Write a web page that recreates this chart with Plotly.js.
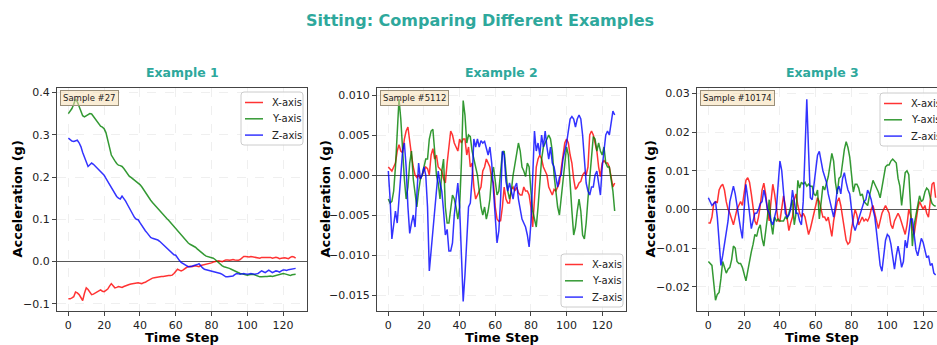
<!DOCTYPE html>
<html><head><meta charset="utf-8">
<script src="https://cdn.plot.ly/plotly-3.0.1.min.js"></script>
<style>html,body{margin:0;padding:0;overflow:hidden;background:#fff}#chart{width:960px;height:345px}</style>
</head><body><div id="chart"></div>
<script>
const mainTitle = "Sitting: Comparing Different Examples";
const panelTitles = ["Example 1", "Example 2", "Example 3"];
const sampleLabels = ["Sample #27", "Sample #5112", "Sample #10174"];
const seriesNames = ["X-axis", "Y-axis", "Z-axis"];
const xTitle = "Time Step";
const yTitle = "Acceleration (g)";
const nSteps = 128;

const ex1X = [
-0.088,-0.088,-0.086,-0.083,-0.072,-0.074,-0.078,-0.085,-0.092,-0.075,
-0.062,-0.066,-0.072,-0.078,-0.077,-0.074,-0.072,-0.069,-0.067,-0.070,
-0.071,-0.068,-0.065,-0.058,-0.052,-0.057,-0.062,-0.061,-0.059,-0.060,
-0.061,-0.059,-0.057,-0.056,-0.054,-0.053,-0.052,-0.051,-0.050,-0.050,
-0.051,-0.052,-0.050,-0.049,-0.046,-0.043,-0.041,-0.039,-0.038,-0.037,
-0.036,-0.036,-0.035,-0.035,-0.034,-0.034,-0.033,-0.033,-0.032,-0.028,
-0.022,-0.018,-0.020,-0.022,-0.020,-0.016,-0.014,-0.012,-0.011,-0.012,
-0.011,-0.010,-0.011,-0.012,-0.009,-0.008,-0.008,-0.007,-0.006,-0.005,
-0.003,-0.001,0.000,0.002,0.002,0.001,0.000,0.002,0.004,0.004,
0.003,0.004,0.005,0.004,0.003,0.003,0.005,0.009,0.012,0.012,
0.011,0.011,0.012,0.011,0.010,0.009,0.008,0.008,0.010,0.010,
0.009,0.009,0.010,0.010,0.008,0.009,0.010,0.009,0.007,0.008,
0.009,0.009,0.008,0.007,0.010,0.012,0.011,0.008];
const ex1Y = [
0.350,0.355,0.362,0.372,0.385,0.378,0.366,0.355,0.345,0.342,
0.344,0.347,0.350,0.349,0.343,0.337,0.330,0.324,0.320,0.318,
0.314,0.305,0.290,0.270,0.252,0.243,0.238,0.232,0.228,0.227,
0.225,0.220,0.213,0.207,0.202,0.199,0.196,0.192,0.188,0.186,
0.182,0.177,0.170,0.163,0.157,0.151,0.145,0.140,0.135,0.130,
0.126,0.121,0.116,0.111,0.106,0.102,0.098,0.093,0.088,0.083,
0.078,0.073,0.068,0.063,0.058,0.053,0.048,0.044,0.041,0.039,
0.037,0.034,0.030,0.026,0.022,0.019,0.016,0.013,0.012,0.011,
0.010,0.008,0.005,0.001,-0.002,-0.006,-0.010,-0.012,-0.013,-0.014,
-0.016,-0.018,-0.020,-0.023,-0.025,-0.027,-0.028,-0.029,-0.030,-0.031,
-0.032,-0.031,-0.030,-0.030,-0.031,-0.033,-0.035,-0.036,-0.036,-0.035,
-0.035,-0.035,-0.034,-0.034,-0.035,-0.034,-0.033,-0.031,-0.030,-0.029,
-0.028,-0.029,-0.030,-0.032,-0.033,-0.031,-0.030,-0.030];
const ex1Z = [
0.292,0.288,0.285,0.284,0.286,0.287,0.281,0.272,0.258,0.248,
0.238,0.225,0.229,0.233,0.230,0.226,0.222,0.218,0.214,0.209,
0.204,0.197,0.190,0.182,0.175,0.167,0.160,0.154,0.150,0.148,
0.155,0.150,0.143,0.135,0.127,0.118,0.110,0.104,0.100,0.099,
0.092,0.085,0.078,0.073,0.068,0.062,0.057,0.055,0.054,0.053,
0.051,0.048,0.044,0.039,0.035,0.032,0.029,0.024,0.019,0.016,
0.015,0.008,0.003,-0.002,-0.005,-0.008,-0.010,-0.012,-0.012,-0.011,
-0.010,-0.009,-0.007,-0.005,-0.011,-0.015,-0.018,-0.019,-0.020,-0.021,
-0.022,-0.023,-0.024,-0.025,-0.027,-0.028,-0.030,-0.033,-0.036,-0.036,
-0.035,-0.035,-0.034,-0.031,-0.028,-0.029,-0.030,-0.029,-0.028,-0.029,
-0.030,-0.029,-0.028,-0.029,-0.030,-0.029,-0.028,-0.025,-0.022,-0.024,
-0.026,-0.023,-0.020,-0.023,-0.026,-0.024,-0.022,-0.023,-0.025,-0.022,
-0.020,-0.020,-0.021,-0.019,-0.018,-0.017,-0.017,-0.016];

const ex2X = [
0.001,0.0008,0.0005,0.001,0.0015,0.003,0.0038,0.003,0.0028,0.0045,
0.0055,0.006,0.004,0.0025,0.001,0,-0.0003,0,-0.0005,0,
0.0005,0.001,0.0008,0,0.0025,0.0033,0.002,0.0025,0.001,0.0008,
0.0005,-0.0005,-0.001,0.0015,0.004,0.0055,0.005,0.004,0.0035,0.003,
0.0045,0.004,0.0045,0.0045,0.0025,0.0035,0.001,0.0015,-0.0015,-0.003,
-0.0025,-0.002,-0.0015,0.0005,0.001,0.002,0.0015,0.001,-0.0005,-0.001,
-0.004,-0.0055,-0.0058,-0.0057,-0.004,-0.0015,-0.003,-0.0035,-0.0035,-0.0018,
-0.0015,-0.002,-0.0015,-0.0022,-0.0025,-0.0025,-0.0015,-0.002,-0.002,-0.0025,
-0.004,-0.0065,-0.003,0.001,0.002,0.0025,0.002,0.001,0.0005,0,
-0.0015,-0.002,-0.0025,-0.0018,-0.002,-0.0015,-0.001,0.0008,0.0025,0.004,
0.0045,0.004,0.0025,0.0015,-0.0005,-0.0018,-0.0015,-0.001,-0.0008,0,
0.0003,0,0.001,0.005,0.0055,0.005,0.004,0.003,0.001,-0.0002,
0.0015,0.0018,0.0015,0.0015,0.001,-0.0005,-0.0015,-0.001];
const ex2Y = [
-0.003,-0.0035,-0.0033,-0.002,0.001,0.006,0.0095,0.007,0.003,-0.0005,
-0.003,-0.0015,0.0015,0.003,-0.0005,-0.002,-0.004,-0.002,-0.0005,0,
0.001,0.002,0.002,0.0045,0.0055,0.0057,0.003,0,-0.001,-0.003,
0.0005,0.002,-0.004,-0.006,-0.006,-0.0045,-0.0025,-0.003,-0.004,-0.0055,
-0.004,0.0015,0.0093,0.0075,0.004,0.005,0.0048,0.003,0.002,0.001,
0,-0.002,-0.004,-0.005,-0.004,-0.0055,-0.0045,-0.003,0,0.001,
-0.001,-0.0025,-0.002,0.001,0.0028,0.003,0,-0.002,-0.003,-0.002,
0,0.0015,0.0025,0.004,0.003,0.001,0.0005,-0.0002,0.0015,0.001,
-0.002,-0.0045,-0.0055,-0.0065,-0.004,-0.001,0.002,0.0035,0.004,0.0045,
0.005,0.0045,0.003,0,-0.002,-0.004,-0.005,-0.003,-0.001,0.001,
0.0035,0.0025,-0.0015,-0.0045,-0.0075,-0.0065,-0.0045,-0.003,-0.0045,-0.0075,
-0.008,-0.006,-0.003,0,0.003,0.0048,0.0045,0.003,0.004,0.003,
0.0025,0.0035,0.0015,0.001,0.001,-0.0005,-0.002,-0.0045];
const ex2Z = [
0.0005,-0.003,-0.008,-0.006,-0.0045,-0.006,-0.003,0.001,0.003,0.004,
0.001,-0.004,-0.0073,-0.006,-0.005,-0.0065,-0.003,0.0015,-0.0005,0,
0.001,0,-0.004,-0.012,-0.0095,-0.007,-0.0055,-0.003,0.0005,-0.001,
-0.002,-0.0045,-0.0075,-0.0068,-0.0095,-0.0095,-0.0085,-0.005,-0.003,-0.001,
-0.004,-0.01,-0.0158,-0.0125,-0.008,-0.004,-0.0035,-0.0005,0.0045,0.0035,
0.0045,0.0035,0.0043,0.004,0.0042,0.0035,0.0025,0.0035,0.0015,-0.002,
-0.005,-0.0085,-0.007,-0.003,0.003,0.0025,-0.0008,-0.002,-0.001,-0.002,
-0.003,-0.0015,-0.001,-0.003,-0.0045,-0.0055,-0.006,-0.0065,-0.0075,-0.009,
-0.006,0,0.0055,0.003,0.004,0.0025,0.005,0.0035,0.0055,0.0035,
0.002,0.0035,0.0015,0.001,-0.0005,-0.0015,-0.0003,0,0.002,0.003,
0.004,0.0055,0.007,0.0073,0.007,0.006,0.007,0.0075,0.007,0.005,
0.002,-0.001,-0.002,-0.0025,-0.0015,-0.0015,0,0.0005,-0.001,-0.0025,
0.001,0.003,0.005,0.0055,0.005,0.0065,0.008,0.0075];

const ex3X = [
-0.0035,-0.0035,-0.002,0.0015,0.002,0.0018,0.005,0.006,0.0065,0.005,
0.002,0,-0.001,-0.0025,-0.004,-0.002,0,0.001,0.002,0.001,
0.005,0.0075,0.0082,0.007,0.004,0.001,-0.003,-0.004,-0.002,0.001,
0.005,0.0068,0.004,0,-0.003,0.002,0.0065,0.004,0,-0.003,
-0.003,0,0.0035,0.001,-0.003,-0.0055,-0.0035,-0.002,0.0025,0.004,
0.001,-0.001,-0.002,-0.001,-0.002,-0.0045,-0.0065,-0.005,-0.003,-0.001,
0.0015,0.003,0.002,0,-0.002,-0.002,-0.003,-0.002,-0.0045,-0.007,
-0.003,0,0.002,0.003,0.001,-0.002,-0.005,-0.008,-0.009,-0.0085,
-0.005,-0.002,0,-0.0015,-0.004,-0.003,-0.002,-0.003,-0.0025,-0.003,
-0.002,0,0.001,-0.001,-0.0035,-0.005,-0.003,-0.001,0,0.001,
0,-0.001,-0.004,-0.005,-0.003,-0.002,-0.001,-0.002,-0.0035,-0.005,
-0.0065,-0.004,0,-0.0015,-0.005,-0.0065,-0.003,0,0.002,0.001,
0,0.001,-0.001,-0.002,0.002,0.0065,0.007,0.003];
const ex3Y = [
-0.0135,-0.014,-0.0145,-0.019,-0.0235,-0.022,-0.0215,-0.018,-0.0135,-0.015,
-0.0165,-0.0155,-0.015,-0.013,-0.0095,-0.01,-0.0135,-0.014,-0.014,-0.015,
-0.017,-0.0185,-0.016,-0.013,-0.011,-0.009,-0.0065,-0.007,-0.005,-0.004,
-0.0075,-0.0095,-0.006,-0.002,0.0025,-0.0035,-0.0065,-0.002,-0.003,-0.0025,
-0.003,-0.003,-0.003,-0.002,-0.0025,-0.001,0.001,0.0025,-0.004,-0.001,
0.0075,0.0055,0.007,0.0065,0.007,0.006,0.0065,0.006,0.006,0.004,
0.0035,0.005,-0.0025,0.0025,0.006,0.005,0.0065,0.0085,0.0115,0.0145,
0.0125,0.007,0.004,0.008,0.0085,0.012,0.0155,0.0175,0.016,0.0135,
0.008,0.0045,0.0065,0.0065,0.0055,0.0035,0.004,0.002,0.0015,0.001,
0.0035,0.006,0.0075,0.0065,0.0055,0.0045,0.003,0.006,0.008,0.011,
0.0115,0.0115,0.0125,0.013,0.0125,0.012,0.008,0.006,0.001,0.006,
0.0095,0.01,0.009,0.001,-0.0095,-0.004,-0.001,0.001,0.0035,0.002,
0.0025,0.0045,0.0055,0.005,0.003,0.0015,0.001,0.0008];
const ex3Z = [
0.003,0.002,0.001,0.0015,0.002,-0.002,-0.008,-0.0145,-0.012,-0.009,
-0.006,-0.003,0.002,0.0045,0.006,0.004,0.0005,-0.002,-0.005,-0.0075,
0,0.0065,0.003,-0.002,-0.005,-0.003,-0.001,-0.001,0,0.0015,
0.002,0.005,0.003,0,-0.001,-0.003,-0.004,-0.002,0,0.0065,
0.0125,0.01,0.005,-0.001,-0.002,-0.0015,0,0.005,0.002,-0.001,
-0.001,-0.003,-0.004,0.002,0.015,0.0285,0.015,0.003,0.0025,0.006,
0.01,0.014,0.015,0.012,0.01,0.0085,0.007,0.004,0.002,0,
-0.002,0.001,0.005,0.006,0.004,0.008,0.0095,0.007,0.005,0.004,
0,-0.004,-0.0055,-0.004,-0.003,-0.001,0,0.002,0.0025,0.005,
0.004,0.0025,0,-0.002,-0.006,-0.01,-0.0145,-0.016,-0.012,-0.008,
-0.0065,-0.007,-0.009,-0.013,-0.0155,-0.012,-0.0095,-0.012,-0.015,-0.0135,
-0.008,-0.01,-0.006,-0.0025,-0.0025,-0.006,-0.0105,-0.012,-0.0095,-0.0075,
-0.0085,-0.011,-0.0125,-0.012,-0.0145,-0.014,-0.0165,-0.017];

const panels = [[ex1X, ex1Y, ex1Z], [ex2X, ex2Y, ex2Z], [ex3X, ex3Y, ex3Z]];
const lineColors = ["rgba(255,0,0,0.8)", "rgba(0,128,0,0.8)", "rgba(0,0,255,0.8)"];
const steps = Array.from({length: nSteps}, (_, i) => i);

const W = 960, H = 345;
const px = v => v / W;
const py = v => 1 - v / H;
const xDom = [[px(57), px(307)], [px(377), px(626)], [px(697), px(947)]];
const yDom = [py(311), py(88)];
const yRanges = [[-0.1168, 0.4105], [-0.0170, 0.01088], [-0.0263, 0.0314]];
const yDtick = [0.1, 0.005, 0.01];
const yFmt = [".1f", ".3f", ".2f"];
const yTitleX = [17, 325, 650];
// legend box: left, top (pixels)
const legendBox = [[241, 92], [561, 254], [880, 93]];
const teal = "#2ea89c";
const FONT = "DejaVu Sans, sans-serif";

const traces = [];
panels.forEach((p, k) => {
  p.forEach((vals, s) => {
    traces.push({
      x: steps, y: vals, type: "scatter", mode: "lines",
      name: seriesNames[s],
      line: {color: lineColors[s], width: 1.5},
      xaxis: k === 0 ? "x" : "x" + (k + 1),
      yaxis: k === 0 ? "y" : "y" + (k + 1),
      showlegend: false,
      hoverinfo: "skip"
    });
  });
});

const layout = {
  width: W, height: H,
  margin: {l: 0, r: 0, t: 0, b: 0},
  paper_bgcolor: "#fff", plot_bgcolor: "#fff",
  font: {family: FONT, size: 11, color: "#222"},
  showlegend: false,
  annotations: [],
  shapes: []
};

function roundRect(x0, y0, x1, y1, r) {
  const rx = r / W, ry = r / H;
  const L = px(x0), R = px(x1), T = py(y0), B = py(y1);
  return `M ${L + rx},${T} L ${R - rx},${T} Q ${R},${T} ${R},${T - ry} L ${R},${B + ry} Q ${R},${B} ${R - rx},${B} L ${L + rx},${B} Q ${L},${B} ${L},${B + ry} L ${L},${T - ry} Q ${L},${T} ${L + rx},${T} Z`;
}

for (let k = 0; k < 3; k++) {
  const sx = k === 0 ? "" : String(k + 1);
  layout["xaxis" + sx] = {
    domain: xDom[k], anchor: "y" + sx, range: [-6.35, 133.35],
    tickmode: "linear", tick0: 0, dtick: 20,
    showline: true, mirror: true, linecolor: "#444", linewidth: 1,
    ticks: "outside", ticklen: 4, tickcolor: "#444",
    showgrid: true, gridcolor: "rgba(0,0,0,0.09)", griddash: "dash", gridwidth: 0.7,
    zeroline: false,
    tickfont: {family: FONT, size: 11, color: "#222"}
  };
  layout["yaxis" + sx] = {
    domain: yDom, anchor: "x" + sx, range: yRanges[k],
    tickmode: "linear", tick0: 0, dtick: yDtick[k], tickformat: yFmt[k],
    showline: true, mirror: true, linecolor: "#444", linewidth: 1,
    ticks: "outside", ticklen: 4, tickcolor: "#444",
    showgrid: true, gridcolor: "rgba(0,0,0,0.09)", griddash: "dash", gridwidth: 0.7,
    zeroline: true, zerolinecolor: "rgba(0,0,0,0.65)", zerolinewidth: 1,
    tickfont: {family: FONT, size: 11, color: "#222"}
  };
  // x-axis title
  layout.annotations.push({
    text: xTitle, xref: "paper", yref: "paper", x: (xDom[k][0] + xDom[k][1]) / 2, y: py(337.5),
    xanchor: "center", yanchor: "middle", showarrow: false,
    font: {family: FONT, size: 13, color: "#000", weight: "bold"}
  });
  // y-axis title
  layout.annotations.push({
    text: yTitle, xref: "paper", yref: "paper", x: px(yTitleX[k]), y: (yDom[0] + yDom[1]) / 2,
    xanchor: "center", yanchor: "middle", textangle: -90, showarrow: false,
    font: {family: FONT, size: 13, color: "#000", weight: "bold"}
  });
  // panel title
  layout.annotations.push({
    text: panelTitles[k], xref: "paper", yref: "paper",
    x: (xDom[k][0] + xDom[k][1]) / 2, y: py(72), xanchor: "center", yanchor: "middle",
    showarrow: false, font: {family: FONT, size: 12.5, color: teal, weight: "bold"}
  });
  // sample label
  layout.annotations.push({
    text: sampleLabels[k], xref: "x" + sx + " domain", yref: "y" + sx + " domain",
    x: 0.012, y: 0.99, xanchor: "left", yanchor: "top", showarrow: false,
    font: {family: FONT, size: 8.5, color: "#222"},
    bgcolor: "rgba(245,222,179,0.55)", bordercolor: "#9a8f7a", borderwidth: 1, borderpad: 2
  });
  // legend
  const [lx, ly] = legendBox[k];
  layout.shapes.push({
    type: "path", xref: "paper", yref: "paper", path: roundRect(lx, ly, lx + 62, ly + 53, 3),
    fillcolor: "rgba(255,255,255,0.85)", line: {color: "#cccccc", width: 1}, layer: "above"
  });
  seriesNames.forEach((nm, s) => {
    const rowY = ly + 10.5 + s * 16.3;
    layout.shapes.push({
      type: "line", xref: "paper", yref: "paper",
      x0: px(lx + 4), x1: px(lx + 22), y0: py(rowY), y1: py(rowY),
      line: {color: lineColors[s], width: 1.5}, layer: "above"
    });
    layout.annotations.push({
      text: nm, xref: "paper", yref: "paper", x: px(lx + 29), y: py(rowY),
      xanchor: "left", yanchor: "middle", showarrow: false,
      font: {family: FONT, size: 10, color: "#222"}
    });
  });
}
layout.annotations.push({
  text: mainTitle, xref: "paper", yref: "paper", x: 0.5, y: py(20),
  xanchor: "center", yanchor: "middle", showarrow: false,
  font: {family: FONT, size: 16, color: teal, weight: "bold"}
});

Plotly.newPlot("chart", traces, layout, {displayModeBar: false, staticPlot: true});
</script>
</body></html>
